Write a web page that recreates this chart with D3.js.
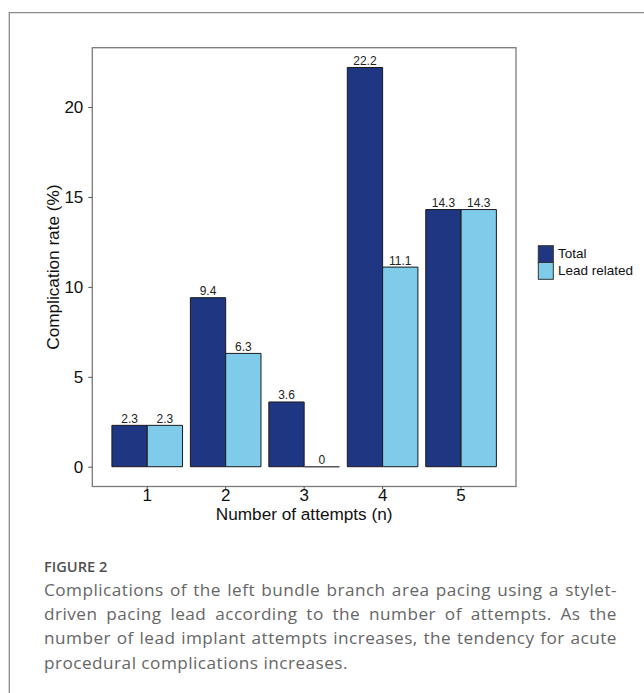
<!DOCTYPE html>
<html>
<head>
<meta charset="utf-8">
<script src="https://cdn.jsdelivr.net/npm/d3@7"></script>
<style>
  html, body { margin: 0; padding: 0; background: #fff; }
  svg { display: block; }
</style>
</head>
<body>
<svg id="chart" width="644" height="693"></svg>
<script>
const categories = ["1", "2", "3", "4", "5"];
const totalValues = [2.3, 9.4, 3.6, 22.2, 14.3];
const leadValues = [2.3, 6.3, 0, 11.1, 14.3];
const seriesNames = ["Total", "Lead related"];
const yTicks = [0, 5, 10, 15, 20];
const xTitle = "Number of attempts (n)";
const yTitle = "Complication rate (%)";
const figureLabel = "FIGURE 2";
const captionLines = [
  "Complications of the left bundle branch area pacing using a stylet-",
  "driven pacing lead according to the number of attempts. As the",
  "number of lead implant attempts increases, the tendency for acute",
  "procedural complications increases."
];

const colors = ["#1F3682", "#7ECCEA"];
const svg = d3.select("#chart");
const chartFont = "'Liberation Sans', Arial, sans-serif";

// outer frame (left + top border)
svg.append("path")
  .attr("d", "M9.3,693 V12.7 H644")
  .attr("fill", "none").attr("stroke", "#8a8a8a").attr("stroke-width", 1.3);

const panel = { left: 92.3, right: 516, top: 47.7, bottom: 486.5 };

const x = d3.scaleBand().domain(categories)
  .range([panel.left, panel.right]).paddingInner(0.1).paddingOuter(0.25);
const xs = d3.scaleBand().domain(seriesNames).range([0, x.bandwidth()]);
const y = d3.scaleLinear().domain([-1.1, 23.3]).range([panel.bottom, panel.top]);

// panel border
svg.append("rect")
  .attr("x", panel.left).attr("y", panel.top)
  .attr("width", panel.right - panel.left).attr("height", panel.bottom - panel.top)
  .attr("fill", "none").attr("stroke", "#7a7a7a").attr("stroke-width", 1.3);

// axes
const yAxis = svg.append("g").attr("transform", `translate(${panel.left},0)`)
  .call(d3.axisLeft(y).tickValues(yTicks).tickSize(4).tickPadding(5));
const xAxis = svg.append("g").attr("transform", `translate(0,${panel.bottom})`)
  .call(d3.axisBottom(x).tickSize(3).tickPadding(-1));
[yAxis, xAxis].forEach(a => {
  a.select(".domain").remove();
  a.selectAll(".tick line").attr("stroke", "#555");
  a.selectAll(".tick text").attr("fill", "#111")
    .style("font-family", chartFont).style("font-size", "17px");
});

// bars
const data = categories.map((c, i) => ({ cat: c, vals: [totalValues[i], leadValues[i]] }));
const groups = svg.append("g").selectAll("g").data(data).join("g")
  .attr("transform", d => `translate(${x(d.cat)},0)`);

groups.selectAll("path").data(d => d.vals.map((v, j) => ({ v, j })))
  .join("path")
  .attr("d", d => {
    const x0 = xs(seriesNames[d.j]), x1 = x0 + xs.bandwidth();
    const y0 = y(0), y1 = y(d.v);
    return `M${x0},${y0} V${y1} H${x1} V${y0} Z`;
  })
  .attr("fill", d => colors[d.j])
  .attr("stroke", d => d.v === 0 ? "#555" : "#1a1a1a")
  .attr("stroke-width", d => d.v === 0 ? 1.5 : 1);

groups.selectAll("text").data(d => d.vals.map((v, j) => ({ v, j })))
  .join("text")
  .attr("x", d => xs(seriesNames[d.j]) + xs.bandwidth() / 2)
  .attr("y", d => y(d.v) - 2.5)
  .attr("text-anchor", "middle")
  .style("font-family", chartFont).style("font-size", "12px")
  .attr("fill", "#222")
  .text(d => d3.format("")(d.v));

// axis titles
svg.append("text")
  .attr("x", (panel.left + panel.right) / 2).attr("y", 520.3)
  .attr("text-anchor", "middle")
  .style("font-family", chartFont).style("font-size", "17.2px").attr("fill", "#111")
  .text(xTitle);
svg.append("text")
  .attr("transform", `translate(58.5,${(panel.top + panel.bottom) / 2}) rotate(-90)`)
  .attr("text-anchor", "middle")
  .style("font-family", chartFont).style("font-size", "17.2px").attr("fill", "#111")
  .text(yTitle);

// legend
const legend = svg.append("g");
seriesNames.forEach((name, i) => {
  legend.append("rect")
    .attr("x", 538.3).attr("y", 245.7 + i * 16.8)
    .attr("width", 15).attr("height", 16.8)
    .attr("fill", colors[i]).attr("stroke", "#333").attr("stroke-width", 1);
  legend.append("text")
    .attr("x", 558).attr("y", 257.5 + i * 17.6)
    .style("font-family", chartFont).style("font-size", "13.5px").attr("fill", "#111")
    .text(name);
});

// caption
const capFont = "'Open Sans', 'Noto Sans', sans-serif";
svg.append("text")
  .attr("x", 44).attr("y", 571.7)
  .style("font-family", capFont).style("font-size", "14.6px").style("font-weight", 600)
  .attr("fill", "#505050")
  .text(figureLabel);

const capWidth = 573;
const lastLineWidth = 304;
const capBaselines = [595.7, 620, 644.3, 669];
// letter spacing fitted from the last (unjustified) line
const probe = svg.append("text")
  .style("font-family", capFont).style("font-size", "17.2px")
  .text(captionLines[captionLines.length - 1]);
const lastLen = captionLines[captionLines.length - 1].length;
const ls = (lastLineWidth - probe.node().getComputedTextLength()) / lastLen;
probe.remove();

captionLines.forEach((line, i) => {
  const t = svg.append("text")
    .attr("x", 44).attr("y", capBaselines[i])
    .style("font-family", capFont).style("font-size", "17.2px")
    .attr("letter-spacing", ls)
    .attr("fill", "#666")
    .text(line);
  if (i < captionLines.length - 1) {
    const w = t.node().getComputedTextLength();
    const spaces = (line.match(/ /g) || []).length;
    if (spaces > 0) t.attr("word-spacing", (capWidth - w) / spaces);
  }
});
</script>
</body>
</html>
